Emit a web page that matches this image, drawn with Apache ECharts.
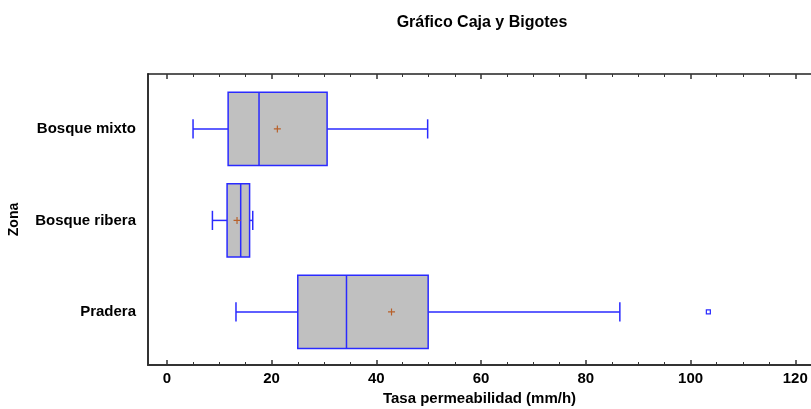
<!DOCTYPE html>
<html>
<head>
<meta charset="utf-8">
<script src="https://cdn.jsdelivr.net/npm/echarts@6/dist/echarts.min.js"></script>
<style>html,body{margin:0;padding:0;background:#fff;}#c{width:811px;height:409px;}</style>
</head>
<body>
<div id="c"></div>
<script>
// Data
const categories = ['Pradera', 'Bosque ribera', 'Bosque mixto'];
const whiskerLow = [13.2, 8.7, 5.0];
const q1 = [25.0, 11.5, 11.7];
const median = [34.3, 14.1, 17.6];
const q3 = [49.9, 15.8, 30.6];
const whiskerHigh = [86.5, 16.4, 49.8];
const means = [42.9, 13.4, 21.1];
const outlierValues = [103.4];
const outlierCategory = ['Pradera'];
const majorTicks = [0, 20, 40, 60, 80, 100, 120];
const minorTicks = [5, 10, 15, 25, 30, 35, 45, 50, 55, 65, 70, 75, 85, 90, 95, 105, 110, 115];

const BLUE = '#2a2aff';
const FONT = 'Liberation Sans, Arial, sans-serif';

const boxData = categories.map((c, i) => [i, whiskerLow[i], q1[i], median[i], q3[i], whiskerHigh[i]]);
const meanData = categories.map((c, i) => [means[i], i]);
const outlierData = outlierValues.map((v, i) => [v, categories.indexOf(outlierCategory[i])]);

const XMIN = -3.6, XMAX = 123;

function xAxisBase(extra) {
  return Object.assign({
    type: 'value', min: XMIN, max: XMAX,
    splitLine: { show: false },
    axisLine: { show: false, onZero: false },
    axisLabel: { show: false },
    axisTick: { show: false }
  }, extra);
}

const chart = echarts.init(document.getElementById('c'), null, { renderer: 'canvas' });
chart.setOption({
  animation: false,
  backgroundColor: '#fff',
  graphic: [{
    type: 'text', x: 482, y: 23,
    style: {
      text: 'Gráfico Caja y Bigotes', align: 'center', verticalAlign: 'middle',
      font: 'bold 16px ' + FONT, fill: '#000'
    }
  }],
  grid: { left: 148, right: 0, top: 74, bottom: 44, outerBoundsMode: 'none', containLabel: false },
  xAxis: [
    xAxisBase({
      position: 'bottom',
      name: 'Tasa permeabilidad (mm/h)', nameLocation: 'middle', nameGap: 20,
      nameTextStyle: { fontFamily: FONT, fontWeight: 'bold', fontSize: 15, color: '#000' },
      axisLine: { show: true, onZero: false, lineStyle: { color: '#333', width: 2 } },
      axisTick: { show: true, inside: true, length: 5, customValues: majorTicks, lineStyle: { color: '#333', width: 1.5 } },
      axisLabel: { show: true, customValues: majorTicks, margin: 6, fontFamily: FONT, fontWeight: 'bold', fontSize: 15, color: '#000' }
    }),
    xAxisBase({
      position: 'bottom',
      axisTick: { show: true, inside: true, length: 3, customValues: minorTicks, lineStyle: { color: '#333', width: 1 } }
    }),
    xAxisBase({
      position: 'top',
      axisLine: { show: true, onZero: false, lineStyle: { color: '#222', width: 1.5 } },
      axisTick: { show: true, inside: true, length: 5, customValues: majorTicks, lineStyle: { color: '#333', width: 1.5 } }
    }),
    xAxisBase({
      position: 'top',
      axisTick: { show: true, inside: true, length: 3, customValues: minorTicks, lineStyle: { color: '#333', width: 1 } }
    })
  ],
  yAxis: {
    type: 'value', min: -0.58, max: 2.6,
    name: 'Zona', nameLocation: 'middle', nameGap: 127, nameRotate: 90,
    nameTextStyle: { fontFamily: FONT, fontWeight: 'bold', fontSize: 14, color: '#000' },
    splitLine: { show: false },
    axisLine: { show: true, onZero: false, lineStyle: { color: '#333', width: 2 } },
    axisTick: { show: false },
    axisLabel: {
      customValues: [0, 1, 2], margin: 12,
      formatter: v => categories[Math.round(v)] || '',
      fontFamily: FONT, fontWeight: 'bold', fontSize: 15, color: '#000'
    }
  },
  series: [
    {
      type: 'custom',
      xAxisIndex: 0,
      data: boxData,
      encode: { x: [1, 2, 3, 4, 5], y: 0 },
      renderItem: function (params, api) {
        const y = api.value(0);
        const pLow = api.coord([api.value(1), y]);
        const pQ1 = api.coord([api.value(2), y]);
        const pMed = api.coord([api.value(3), y]);
        const pQ3 = api.coord([api.value(4), y]);
        const pHigh = api.coord([api.value(5), y]);
        const unit = api.size([0, 1])[1];
        const hb = unit * 0.4, hc = unit * 0.105;
        const cy = pLow[1];
        const ls = { stroke: BLUE, lineWidth: 1.5 };
        return {
          type: 'group',
          children: [
            { type: 'line', shape: { x1: pLow[0], y1: cy, x2: pQ1[0], y2: cy }, style: ls },
            { type: 'line', shape: { x1: pQ3[0], y1: cy, x2: pHigh[0], y2: cy }, style: ls },
            { type: 'line', shape: { x1: pLow[0], y1: cy - hc, x2: pLow[0], y2: cy + hc }, style: ls },
            { type: 'line', shape: { x1: pHigh[0], y1: cy - hc, x2: pHigh[0], y2: cy + hc }, style: ls },
            { type: 'rect', shape: { x: pQ1[0], y: cy - hb, width: pQ3[0] - pQ1[0], height: 2 * hb },
              style: { fill: '#c0c0c0', stroke: BLUE, lineWidth: 1.5 } },
            { type: 'line', shape: { x1: pMed[0], y1: cy - hb, x2: pMed[0], y2: cy + hb }, style: ls }
          ]
        };
      },
      z: 2
    },
    {
      type: 'scatter',
      xAxisIndex: 0,
      data: meanData,
      symbol: 'path://M2.5,0H3.5V2.5H6V3.5H3.5V6H2.5V3.5H0V2.5H2.5Z',
      symbolSize: 7,
      itemStyle: { color: '#b8602a', opacity: 1 },
      z: 3
    },
    {
      type: 'scatter',
      xAxisIndex: 0,
      data: outlierData,
      symbol: 'rect',
      symbolSize: 4,
      itemStyle: { color: '#fff', borderColor: BLUE, borderWidth: 1.2, opacity: 1 },
      z: 3
    }
  ]
});
</script>
</body>
</html>
